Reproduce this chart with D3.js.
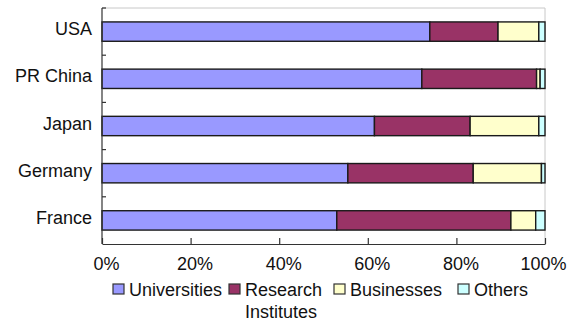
<!DOCTYPE html>
<html>
<head>
<meta charset="utf-8">
<script src="https://cdn.jsdelivr.net/npm/d3@7"></script>
<style>
  html, body { margin: 0; padding: 0; background: #fff; }
  svg { display: block; font-family: "Liberation Sans", Arial, sans-serif; }
</style>
</head>
<body>
<svg id="chart" width="578" height="325"></svg>
<script>
// Share of publications by sector, per country (percent of total)
const categories = ["USA", "PR China", "Japan", "Germany", "France"];
const universities = [74.0, 72.2, 61.5, 55.5, 53.0];
const research     = [15.4, 25.9, 21.6, 28.3, 39.3];
const businesses   = [9.2, 0.8, 15.5, 15.4, 5.6];
const others       = [1.4, 1.1, 1.4, 0.8, 2.1];
const seriesNames  = ["Universities", "Research Institutes", "Businesses", "Others"];
const xTicks = [0, 20, 40, 60, 80, 100];

const colors = ["#9999ff", "#993366", "#ffffcc", "#ccffff"];

const W = 578, H = 325;
const margin = { top: 8, right: 33, bottom: 81, left: 102 };
const svg = d3.select("#chart");

const rows = categories.map((c, i) => ({
  country: c,
  Universities: universities[i],
  "Research Institutes": research[i],
  Businesses: businesses[i],
  Others: others[i]
}));

const stack = d3.stack().keys(seriesNames);
const layers = stack(rows);

const x = d3.scaleLinear().domain([0, 100]).range([margin.left, W - margin.right]);
const y = d3.scaleBand().domain(categories)
  .range([margin.top, H - margin.bottom])
  .paddingInner(0.59).paddingOuter(0.295);
const color = d3.scaleOrdinal().domain(seriesNames).range(colors);

// light frame on the top and right of the plot area
svg.append("path")
  .attr("d", `M${x(0)},${margin.top}H${x(100)}V${H - margin.bottom}`)
  .attr("fill", "none").attr("stroke", "#c8c8c8").attr("stroke-width", 1);

// stacked bars
svg.append("g").selectAll("g").data(layers).join("g")
  .attr("fill", d => color(d.key))
  .selectAll("rect").data(d => d).join("rect")
  .attr("x", d => x(d[0]))
  .attr("y", d => y(d.data.country))
  .attr("width", d => x(d[1]) - x(d[0]))
  .attr("height", y.bandwidth())
  .attr("stroke", "#1a1a1a").attr("stroke-width", 1.4);

// category axis (ticks between categories, pointing into the plot)
const step = y.step();
const yAxis = svg.append("g");
yAxis.append("line")
  .attr("x1", x(0)).attr("x2", x(0))
  .attr("y1", margin.top).attr("y2", H - margin.bottom)
  .attr("stroke", "#333").attr("stroke-width", 1.2);
yAxis.selectAll("line.tick").data(categories).join("line")
  .attr("class", "tick")
  .attr("x1", x(0)).attr("x2", x(0) + 4)
  .attr("y1", d => y(d) - step * y.paddingOuter())
  .attr("y2", d => y(d) - step * y.paddingOuter())
  .attr("stroke", "#333").attr("stroke-width", 1.2);
yAxis.selectAll("text").data(categories).join("text")
  .attr("x", x(0) - 10)
  .attr("y", d => y(d) + y.bandwidth() / 2)
  .attr("dy", "0.2em")
  .attr("text-anchor", "end")
  .attr("font-size", 18)
  .attr("fill", "#111")
  .text(d => d);

// value axis
const xAxis = d3.axisBottom(x).tickValues(xTicks)
  .tickSizeInner(-6).tickSizeOuter(0)
  .tickFormat(d => d + "%");
const gx = svg.append("g")
  .attr("transform", `translate(0,${H - margin.bottom})`)
  .call(xAxis);
gx.select(".domain").attr("stroke", "#333").attr("stroke-width", 1.2);
gx.selectAll(".tick line").attr("stroke", "#333").attr("stroke-width", 1.2);
gx.selectAll(".tick text")
  .attr("font-size", 18)
  .attr("font-family", "Liberation Sans, Arial, sans-serif")
  .attr("fill", "#111")
  .attr("y", 13)
  .attr("dy", "0.71em")
  .attr("dx", d => d === 100 ? -2 : 4);

// legend: one entry per series, the long name wrapped onto two lines
const legendX = [113, 229, 334, 458];
const ly = 296;
const legend = svg.append("g").attr("font-size", 18).attr("fill", "#111");
seriesNames.forEach((name, i) => {
  const lx = legendX[i];
  const g = legend.append("g");
  g.append("rect")
    .attr("x", lx).attr("y", ly - 12)
    .attr("width", 11).attr("height", 10)
    .attr("fill", colors[i]).attr("stroke", "#333").attr("stroke-width", 1.2);
  const words = name === "Research Institutes" ? ["Research", "Institutes"] : [name];
  const t = g.append("text").attr("y", ly);
  words.forEach((w, k) => {
    t.append("tspan").attr("x", lx + 16).attr("dy", k === 0 ? 0 : 22).text(w);
  });
});
</script>
</body>
</html>
